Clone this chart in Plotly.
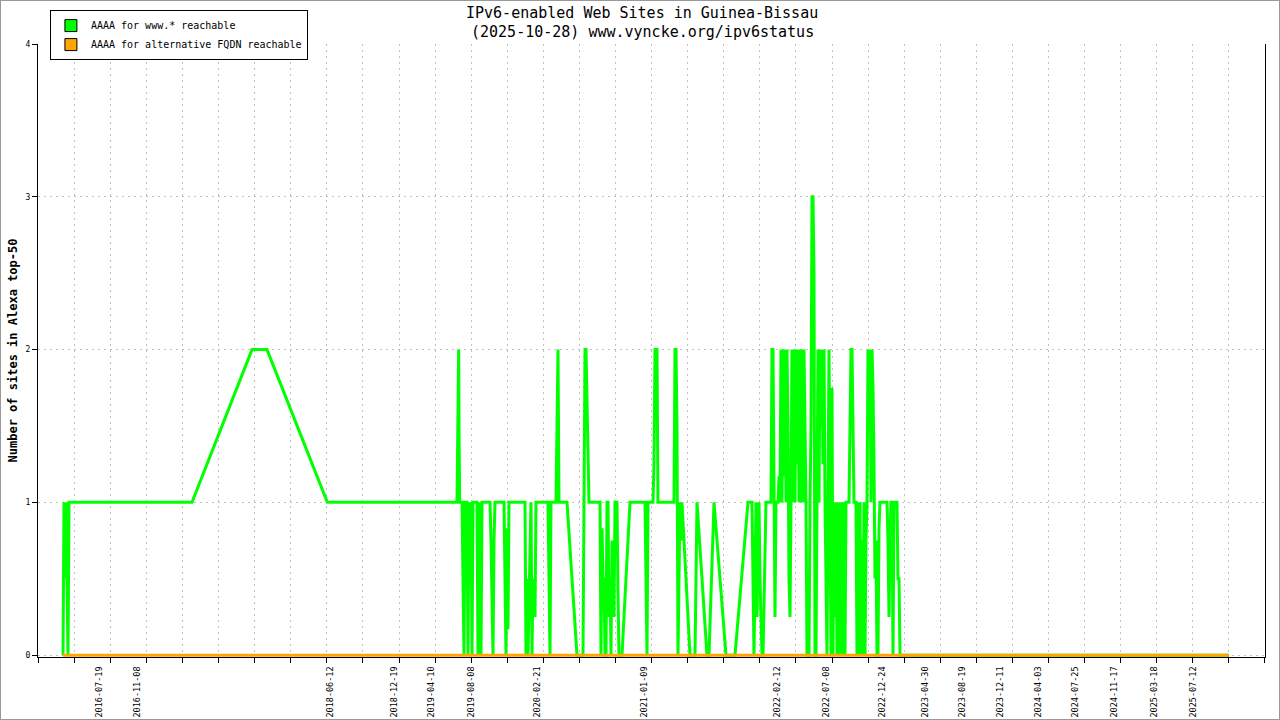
import plotly.graph_objects as go

# IPv6 status, Guinea-Bissau
green_dates = [
    "2016-03-31", "2016-04-03", "2016-04-06", "2016-04-09", "2016-04-15", "2016-04-18",
    "2017-04-22", "2017-10-19", "2017-12-03", "2018-06-02",
    "2019-06-26", "2019-06-28", "2019-06-29", "2019-07-01", "2019-07-02", "2019-07-04",
    "2019-07-11", "2019-07-14", "2019-07-17", "2019-07-20", "2019-07-26", "2019-07-29",
    "2019-08-01", "2019-08-04", "2019-08-07", "2019-08-10", "2019-08-13", "2019-08-25",
    "2019-08-28", "2019-08-31", "2019-09-03", "2019-09-06", "2019-09-09", "2019-10-03",
    "2019-10-06", "2019-10-09", "2019-10-12", "2019-10-15", "2019-10-18", "2019-11-14",
    "2019-11-17", "2019-11-20", "2019-11-23", "2019-11-26", "2019-11-29",
    "2020-01-16", "2020-01-19", "2020-01-22", "2020-01-25", "2020-01-31", "2020-02-03",
    "2020-02-06", "2020-02-09", "2020-02-15", "2020-02-18", "2020-03-25", "2020-03-28",
    "2020-03-31", "2020-04-03", "2020-04-18", "2020-04-21", "2020-04-24", "2020-04-27",
    "2020-05-21", "2020-06-20", "2020-07-08", "2020-07-11", "2020-07-14", "2020-07-17",
    "2020-07-20", "2020-07-23", "2020-07-26", "2020-08-28", "2020-08-31", "2020-09-03",
    "2020-09-06", "2020-09-09", "2020-09-12", "2020-09-15", "2020-09-18", "2020-09-21",
    "2020-09-24", "2020-09-27", "2020-09-30", "2020-10-03", "2020-10-06", "2020-10-09",
    "2020-10-12", "2020-10-18", "2020-10-21", "2020-10-24", "2020-11-02", "2020-11-26",
    "2021-01-10", "2021-01-13", "2021-01-16", "2021-01-19", "2021-02-03", "2021-02-06",
    "2021-02-09", "2021-02-15", "2021-02-18", "2021-04-07", "2021-04-10", "2021-04-13",
    "2021-04-16", "2021-04-19", "2021-04-22", "2021-04-25", "2021-04-28", "2021-05-01",
    "2021-05-25", "2021-06-09", "2021-06-15", "2021-07-15", "2021-07-21", "2021-08-05",
    "2021-09-10", "2021-10-07", "2021-11-15", "2021-11-27", "2021-12-03", "2021-12-09",
    "2021-12-12", "2021-12-15", "2021-12-18", "2021-12-21", "2021-12-27", "2021-12-30",
    "2022-01-08", "2022-01-23", "2022-01-26", "2022-01-29", "2022-02-01", "2022-02-04",
    "2022-02-07", "2022-02-13", "2022-02-16", "2022-02-19", "2022-02-22", "2022-02-25",
    "2022-02-28", "2022-03-03", "2022-03-06", "2022-03-09", "2022-03-12", "2022-03-15",
    "2022-03-18", "2022-03-21", "2022-03-24", "2022-03-27", "2022-03-30", "2022-04-02",
    "2022-04-05", "2022-04-08", "2022-04-11", "2022-04-14", "2022-04-17", "2022-04-20",
    "2022-04-23", "2022-04-26", "2022-04-29", "2022-05-02", "2022-05-05", "2022-05-08",
    "2022-05-11", "2022-05-17", "2022-05-20", "2022-05-23", "2022-05-26", "2022-05-29",
    "2022-06-01", "2022-06-04", "2022-06-07", "2022-06-10", "2022-06-13", "2022-06-16",
    "2022-06-19", "2022-06-22", "2022-06-25", "2022-06-28", "2022-07-01", "2022-07-04",
    "2022-07-07", "2022-07-10", "2022-07-13", "2022-07-16", "2022-07-19", "2022-07-22",
    "2022-07-25", "2022-07-28", "2022-07-31", "2022-08-03", "2022-08-06", "2022-08-09",
    "2022-08-12", "2022-08-15", "2022-08-18", "2022-08-21", "2022-08-24", "2022-08-27",
    "2022-08-30", "2022-09-02", "2022-09-05", "2022-09-14", "2022-09-17", "2022-09-20",
    "2022-09-23", "2022-09-26", "2022-09-29", "2022-10-05", "2022-10-08", "2022-10-11",
    "2022-10-14", "2022-10-17", "2022-10-20", "2022-10-23", "2022-10-26", "2022-10-29",
    "2022-11-01", "2022-11-04", "2022-11-07", "2022-11-10", "2022-11-13", "2022-11-16",
    "2022-11-19", "2022-11-22", "2022-11-25", "2022-11-28", "2022-12-01", "2022-12-04",
    "2022-12-07", "2022-12-10", "2022-12-13", "2022-12-16", "2023-01-06", "2023-01-09",
    "2023-01-12", "2023-01-15", "2023-01-18", "2023-01-21", "2023-01-24", "2023-01-27",
    "2023-02-05", "2023-02-08", "2023-02-11", "2023-02-14", "2025-10-28",
]
green_values = [
    0, 1, 0.5, 1, 0, 1,
    1, 2, 2, 1,
    1, 1.5, 2, 2, 1.5, 1,
    1, 0.5, 0, 1, 1, 0,
    1, 0.5, 1, 0, 1, 1,
    0, 1, 0.5, 0, 1, 1,
    0.75, 0.25, 0, 0.75, 1, 1,
    0.5, 0, 0.83, 0.17, 1,
    1, 0, 0.5, 0, 0.83, 1,
    0, 0.5, 0.25, 1, 1, 0.5,
    0, 1, 1, 1.5, 2, 1,
    1, 0, 0, 1, 2, 2,
    1.67, 1.17, 1, 1, 0, 0.83,
    0.5, 0.5, 0, 0, 1, 1,
    0.25, 0.5, 0, 0.75, 0.5, 0.25,
    1, 1, 0.4, 0, 0, 1,
    1, 0.25, 0, 1, 1, 1.25,
    2, 2, 1, 1, 2, 2,
    1.5, 0, 0.5, 1, 0.75, 1,
    0, 0, 1, 0, 0, 1,
    0, 0, 1, 1, 0, 1,
    0.25, 0.62, 1, 0.5, 0, 0,
    1, 1, 2, 2, 0.75, 0.25,
    1, 1, 1.17, 1, 2, 1,
    2, 1.17, 2, 1, 2, 1.5,
    0.5, 0.25, 1, 2, 1, 2,
    1, 2, 1.25, 2, 1, 2,
    1, 2, 1, 2, 1.5, 1,
    0, 0, 1, 1.5, 3, 3,
    2.5, 0, 0, 1, 2, 1,
    2, 1.5, 2, 1.25, 2, 1,
    0.5, 0, 1, 2, 1, 0,
    1.75, 0, 1, 0.25, 1, 0,
    0.25, 1, 0, 1, 0.5, 0,
    1, 0, 1, 1, 1.5, 2,
    2, 1.5, 1, 1, 0, 1,
    0, 1, 0, 0.75, 0, 1,
    0, 0.75, 1, 2, 1.5, 2,
    1, 2, 1.75, 1.25, 0.5, 0.75,
    0, 0, 0.83, 1, 1, 0.75,
    0.25, 0.75, 1, 1, 0, 1,
    1, 0.5, 0.5, 0, 0,
]

orange_dates = ["2016-03-31", "2025-10-28"]
orange_values = [0, 0]

tick_dates = [
    "2016-07-19", "2016-11-08", "2018-06-12", "2018-12-19", "2019-04-10",
    "2019-08-08", "2020-02-21", "2021-01-09", "2022-02-12", "2022-07-08",
    "2022-12-24", "2023-04-30", "2023-08-19", "2023-12-11", "2024-04-03",
    "2024-07-25", "2024-11-17", "2025-03-18", "2025-07-12",
]

title_lines = [
    "IPv6-enabled Web Sites in Guinea-Bissau",
    "(2025-10-28) www.vyncke.org/ipv6status",
]
y_title = "Number of sites in Alexa top-50"

GREEN = "#00ff00"
ORANGE = "#ffa500"
MONO = "DejaVu Sans Mono"

fig = go.Figure()

fig.add_trace(go.Scatter(
    x=green_dates, y=green_values, mode="lines",
    line=dict(color=GREEN, width=3), showlegend=False,
))
fig.add_trace(go.Scatter(
    x=orange_dates, y=orange_values, mode="lines",
    line=dict(color=ORANGE, width=3), showlegend=False,
))

# legend entries drawn as filled boxes
for name, color in [("AAAA for www.* reachable", GREEN),
                    ("AAAA for alternative FQDN reachable", ORANGE)]:
    fig.add_trace(go.Bar(
        x=[None], y=[None], name=name,
        marker=dict(color=color, line=dict(color="black", width=1)),
    ))

fig.update_layout(
    width=1280, height=720,
    paper_bgcolor="white", plot_bgcolor="white",
    margin=dict(l=38, r=15, t=44, b=63, autoexpand=False),
    font=dict(family=MONO, color="black"),
    legend=dict(
        xref="container", yref="container",
        x=0.039, y=0.986, xanchor="left", yanchor="top",
        bgcolor="white", bordercolor="black", borderwidth=1,
        font=dict(family=MONO, size=10, color="black"),
        itemwidth=30, traceorder="normal", tracegroupgap=0,
    ),
    showlegend=True,
    shapes=[dict(
        type="rect", xref="paper", yref="paper",
        x0=-0.03097, x1=1.01222, y0=-0.10277, y1=1.0718,
        line=dict(color="#999999", width=2), fillcolor="rgba(0,0,0,0)",
    )],
)

for text, ypos in zip(title_lines, [1.0506, 1.019]):
    fig.add_annotation(
        text=text, xref="paper", yref="paper", x=0.4925, y=ypos,
        xanchor="center", yanchor="middle", showarrow=False,
        font=dict(family=MONO, size=15, color="black"),
    )

fig.add_annotation(
    text="<b>" + y_title + "</b>", xref="paper", yref="paper",
    x=-0.0204, y=0.5, xanchor="center", yanchor="middle",
    textangle=-90, showarrow=False,
    font=dict(family=MONO, size=12, color="black"),
)

fig.update_xaxes(
    type="date", range=["2016-01-16", "2026-02-13"],
    tickmode="array", tickvals=tick_dates, ticktext=tick_dates,
    ticks="", tickangle=-90, ticklabelstandoff=5,
    tickfont=dict(family=MONO, size=8.5, color="black"),
    showgrid=False, zeroline=False,
    showline=True, linecolor="black", linewidth=1,
    layer="below traces",
    minor=dict(
        tickmode="linear", tick0="2016-05-04", dtick=9351936000,
        ticks="outside", ticklen=5, tickcolor="black",
        showgrid=True, gridcolor="#c0c0c0", griddash="2px,4px", gridwidth=1,
    ),
)

fig.update_yaxes(
    range=[-0.012, 4], tickmode="array", tickvals=[0, 1, 2, 3, 4],
    ticks="outside", ticklen=5, tickcolor="black",
    tickfont=dict(family=MONO, size=8, color="black"),
    showgrid=True, gridcolor="#c0c0c0", griddash="2px,4px", gridwidth=1,
    zeroline=False, showline=True, linecolor="black", linewidth=1, mirror=True,
    layer="below traces",
)

# page body has a default margin; drop it so the chart sits at the window corner
fig.write_html(
    "out.html",
    config={"displayModeBar": False},
    post_script="document.body.style.margin='0';",
)
